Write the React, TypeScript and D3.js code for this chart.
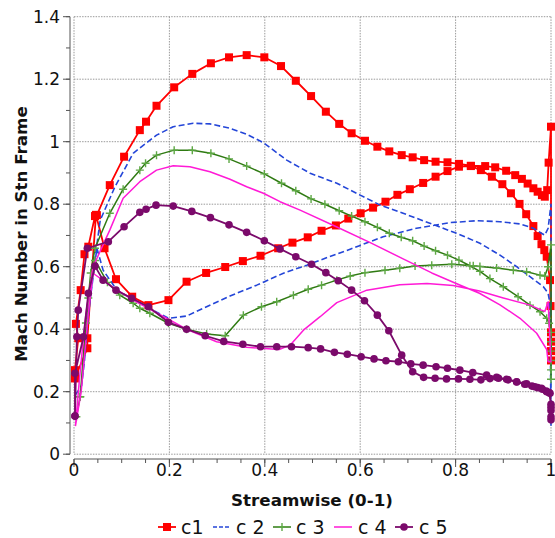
import React from "react";
import * as d3 from "d3";

type P = [number, number];

const X_TICKS = [0, 0.2, 0.4, 0.6, 0.8, 1];
const X_TICK_LABELS = ["0", "0.2", "0.4", "0.6", "0.8", "1"];
const Y_TICKS = [0, 0.2, 0.4, 0.6, 0.8, 1, 1.2, 1.4];
const Y_TICK_LABELS = ["0", "0.2", "0.4", "0.6", "0.8", "1", "1.2", "1.4"];
const SERIES_NAMES = ["c1", "c 2", "c 3", "c 4", "c 5"];

const c1Data: P[] = [
  [0.002, 0.243], [0.002, 0.269], [0.009, 0.371], [0.004, 0.417], [0.014, 0.525], [0.022, 0.64], [0.03, 0.664],
  [0.044, 0.762], [0.048, 0.765], [0.075, 0.861], [0.105, 0.952], [0.138, 1.037], [0.151, 1.064], [0.173, 1.115],
  [0.21, 1.174], [0.248, 1.217], [0.287, 1.251], [0.325, 1.27], [0.362, 1.277], [0.399, 1.27], [0.434, 1.242],
  [0.465, 1.195], [0.497, 1.146], [0.528, 1.096], [0.556, 1.057], [0.582, 1.027], [0.61, 1.003], [0.636, 0.984],
  [0.661, 0.969], [0.687, 0.957], [0.71, 0.95], [0.734, 0.941], [0.758, 0.936], [0.783, 0.934], [0.807, 0.929],
  [0.832, 0.923], [0.862, 0.922], [0.883, 0.918], [0.906, 0.907], [0.925, 0.893], [0.939, 0.881], [0.951, 0.866],
  [0.963, 0.851], [0.972, 0.84], [0.981, 0.829], [0.987, 0.824], [0.992, 0.845], [0.995, 0.933], [1.0, 1.048],
  [1.0, 0.3], [1.0, 0.33], [1.0, 0.36], [1.0, 0.39], [0.999, 0.474], [0.998, 0.557], [0.991, 0.632], [0.986, 0.653],
  [0.98, 0.672], [0.972, 0.698], [0.963, 0.73], [0.948, 0.768], [0.934, 0.801], [0.916, 0.835], [0.898, 0.864],
  [0.876, 0.888], [0.853, 0.909], [0.832, 0.922], [0.807, 0.92], [0.783, 0.906], [0.758, 0.888], [0.732, 0.868],
  [0.704, 0.848], [0.678, 0.83], [0.653, 0.808], [0.627, 0.789], [0.601, 0.771], [0.575, 0.754], [0.549, 0.732],
  [0.519, 0.715], [0.49, 0.694], [0.458, 0.677], [0.428, 0.659], [0.391, 0.635], [0.354, 0.618], [0.317, 0.599],
  [0.277, 0.58], [0.236, 0.552], [0.198, 0.493], [0.156, 0.477], [0.122, 0.504], [0.088, 0.56], [0.064, 0.659],
  [0.046, 0.766], [0.028, 0.371], [0.028, 0.339], [0.002, 0.243],
];

const c2Data: P[] = [
  [0.003, 0.19], [0.016, 0.22], [0.022, 0.3], [0.027, 0.397], [0.04, 0.58], [0.055, 0.749], [0.086, 0.856],
  [0.124, 0.963], [0.173, 1.021], [0.208, 1.048], [0.25, 1.059], [0.285, 1.057], [0.327, 1.043], [0.362, 1.024],
  [0.397, 0.997], [0.432, 0.957], [0.446, 0.941], [0.495, 0.899], [0.551, 0.867], [0.6, 0.829], [0.642, 0.797],
  [0.69, 0.771], [0.746, 0.739], [0.802, 0.707], [0.851, 0.675], [0.893, 0.637], [0.928, 0.6], [0.956, 0.568],
  [0.984, 0.536], [0.994, 0.515], [0.998, 0.48], [1.0, 0.09], [1.0, 0.8], [0.994, 0.723], [0.987, 0.701],
  [0.98, 0.707], [0.963, 0.723], [0.935, 0.737], [0.893, 0.744], [0.844, 0.747], [0.788, 0.741], [0.718, 0.723],
  [0.648, 0.696], [0.579, 0.656], [0.516, 0.621], [0.488, 0.605], [0.439, 0.579], [0.383, 0.541], [0.327, 0.506],
  [0.278, 0.472], [0.236, 0.442], [0.198, 0.435], [0.145, 0.477], [0.09, 0.525], [0.061, 0.589], [0.048, 0.659],
  [0.03, 0.45], [0.016, 0.22],
];

const c3Data: P[] = [
  [0.005, 0.12], [0.013, 0.184], [0.025, 0.42], [0.035, 0.58], [0.044, 0.659], [0.075, 0.771], [0.103, 0.848],
  [0.138, 0.909], [0.15, 0.931], [0.173, 0.957], [0.21, 0.973], [0.248, 0.973], [0.287, 0.963], [0.325, 0.945],
  [0.362, 0.922], [0.399, 0.897], [0.435, 0.867], [0.465, 0.843], [0.497, 0.817], [0.526, 0.8], [0.556, 0.779],
  [0.582, 0.762], [0.61, 0.744], [0.636, 0.726], [0.661, 0.707], [0.686, 0.694], [0.71, 0.683], [0.734, 0.666],
  [0.758, 0.651], [0.783, 0.637], [0.807, 0.621], [0.83, 0.603], [0.851, 0.585], [0.872, 0.562], [0.9, 0.536],
  [0.931, 0.504], [0.956, 0.477], [0.977, 0.456], [0.991, 0.435], [0.996, 0.419], [1.0, 0.39], [1.0, 0.36],
  [1.0, 0.33], [1.0, 0.3], [1.0, 0.27], [1.0, 0.24], [1.0, 0.67], [0.994, 0.6], [0.987, 0.57], [0.977, 0.573],
  [0.949, 0.584], [0.921, 0.589], [0.886, 0.596], [0.851, 0.601], [0.837, 0.603], [0.792, 0.608], [0.75, 0.605],
  [0.715, 0.602], [0.683, 0.595], [0.652, 0.589], [0.61, 0.581], [0.579, 0.57], [0.551, 0.557], [0.519, 0.541],
  [0.491, 0.528], [0.46, 0.509], [0.425, 0.488], [0.393, 0.472], [0.355, 0.445], [0.317, 0.379], [0.278, 0.385],
  [0.236, 0.4], [0.198, 0.419], [0.159, 0.451], [0.138, 0.467], [0.124, 0.483], [0.096, 0.509], [0.07, 0.55],
  [0.044, 0.62], [0.03, 0.5], [0.013, 0.184],
];

const c4Data: P[] = [
  [0.003, 0.09], [0.012, 0.25], [0.025, 0.45], [0.04, 0.6], [0.075, 0.717], [0.103, 0.819], [0.138, 0.872],
  [0.173, 0.909], [0.208, 0.923], [0.243, 0.92], [0.285, 0.904], [0.327, 0.88], [0.362, 0.856], [0.397, 0.835],
  [0.432, 0.808], [0.474, 0.781], [0.55, 0.728], [0.62, 0.678], [0.69, 0.625], [0.75, 0.58], [0.8, 0.547],
  [0.85, 0.515], [0.893, 0.478], [0.935, 0.435], [0.97, 0.387], [0.991, 0.335], [0.994, 0.296], [1.0, 0.296],
  [0.994, 0.488], [0.987, 0.457], [0.98, 0.461], [0.956, 0.477], [0.9, 0.5], [0.85, 0.522], [0.795, 0.54],
  [0.74, 0.546], [0.683, 0.542], [0.614, 0.525], [0.551, 0.485], [0.516, 0.44], [0.481, 0.397], [0.453, 0.349],
  [0.43, 0.335], [0.362, 0.342], [0.299, 0.36], [0.236, 0.4], [0.194, 0.435], [0.124, 0.493], [0.075, 0.541],
  [0.04, 0.579], [0.03, 0.45], [0.015, 0.2], [0.003, 0.09],
];

const c5Data: P[] = [
  [0.002, 0.122], [0.006, 0.376], [0.009, 0.461], [0.028, 0.659], [0.072, 0.68], [0.105, 0.728], [0.138, 0.774],
  [0.151, 0.784], [0.172, 0.797], [0.208, 0.794], [0.247, 0.777], [0.286, 0.757], [0.325, 0.734], [0.362, 0.71],
  [0.399, 0.683], [0.432, 0.657], [0.465, 0.632], [0.498, 0.608], [0.528, 0.581], [0.554, 0.555], [0.582, 0.525],
  [0.609, 0.491], [0.636, 0.445], [0.66, 0.395], [0.687, 0.317], [0.71, 0.264], [0.733, 0.246], [0.757, 0.243],
  [0.781, 0.241], [0.806, 0.241], [0.83, 0.24], [0.853, 0.238], [0.872, 0.242], [0.89, 0.243], [0.91, 0.238],
  [0.928, 0.231], [0.945, 0.224], [0.96, 0.218], [0.972, 0.213], [0.982, 0.208], [0.99, 0.202], [0.996, 0.197],
  [1.0, 0.16], [1.0, 0.14], [1.0, 0.12], [1.0, 0.11], [1.0, 0.15], [0.998, 0.195], [0.991, 0.2], [0.98, 0.211],
  [0.966, 0.216], [0.949, 0.225], [0.928, 0.232], [0.907, 0.24], [0.886, 0.246], [0.865, 0.253], [0.836, 0.261],
  [0.809, 0.269], [0.783, 0.275], [0.759, 0.28], [0.732, 0.285], [0.706, 0.289], [0.68, 0.296], [0.654, 0.299],
  [0.629, 0.305], [0.602, 0.312], [0.573, 0.32], [0.546, 0.326], [0.517, 0.337], [0.491, 0.341], [0.456, 0.344],
  [0.425, 0.344], [0.391, 0.344], [0.354, 0.352], [0.314, 0.361], [0.275, 0.379], [0.236, 0.4], [0.198, 0.422],
  [0.156, 0.472], [0.121, 0.499], [0.088, 0.525], [0.061, 0.557], [0.044, 0.602], [0.03, 0.515], [0.02, 0.376],
  [0.002, 0.259], [0.002, 0.122],
];

const W = 555;
const H = 538;
const FONT = "'DejaVu Sans', Verdana, sans-serif";

type Marker = "square" | "plus" | "circle" | "none";
interface SeriesDef {
  name: string;
  data: P[];
  color: string;
  markerColor: string;
  width: number;
  dash?: string;
  marker: Marker;
}

const SERIES: SeriesDef[] = [
  { name: SERIES_NAMES[0], data: c1Data, color: "#ff0000", markerColor: "#ff0000", width: 1.8, marker: "square" },
  { name: SERIES_NAMES[1], data: c2Data, color: "#2446d8", markerColor: "#2446d8", width: 1.6, dash: "6,3", marker: "none" },
  { name: SERIES_NAMES[2], data: c3Data, color: "#2f7a12", markerColor: "#5ea845", width: 1.5, marker: "plus" },
  { name: SERIES_NAMES[3], data: c4Data, color: "#ff1ad6", markerColor: "#ff1ad6", width: 1.5, marker: "none" },
  { name: SERIES_NAMES[4], data: c5Data, color: "#7b0a6b", markerColor: "#7b0a6b", width: 1.8, marker: "circle" },
];

function MarkerShape({ kind, cx, cy, color }: { kind: Marker; cx: number; cy: number; color: string }) {
  if (kind === "square") return <rect x={cx - 4} y={cy - 4} width={8} height={8} fill={color} />;
  if (kind === "circle") return <circle cx={cx} cy={cy} r={3.8} fill={color} />;
  if (kind === "plus")
    return (
      <path d={`M${cx - 4},${cy}H${cx + 4}M${cx},${cy - 4}V${cy + 4}`} stroke={color} strokeWidth={1.4} fill="none" />
    );
  return null;
}

export default function App() {
  const x = d3.scaleLinear().domain([0, 1]).range([74, 551]);
  const y = d3.scaleLinear().domain([0, 1.4]).range([454.2, 16.7]);
  const line = d3
    .line<P>()
    .x((d) => x(d[0]))
    .y((d) => y(d[1]));

  const axisX = 70;
  const axisY = 459;
  const yMinor = d3.range(0, 1.41, 0.1);
  const xMinor = d3.range(0, 1.001, 0.05);

  const legendItems = [
    { lx: 158, tx: 181 },
    { lx: 213, tx: 236 },
    { lx: 273, tx: 296 },
    { lx: 334, tx: 358 },
    { lx: 395, tx: 419 },
  ];
  const legendY = 527;

  return (
    <svg width={W} height={H} style={{ position: "absolute", left: 0, top: 0, background: "#fff" }} fontFamily={FONT}>
      {/* grid */}
      <g stroke="#9a9a9a" strokeWidth={1} strokeDasharray="1.5,1.2" fill="none">
        {Y_TICKS.map((t) => (
          <line key={"gy" + t} x1={x(0)} x2={x(1)} y1={y(t)} y2={y(t)} />
        ))}
        {X_TICKS.map((t) => (
          <line key={"gx" + t} x1={x(t)} x2={x(t)} y1={y(1.4)} y2={y(0)} />
        ))}
      </g>
      {/* axes */}
      <g stroke="#555" strokeWidth={1} fill="none">
        <line x1={axisX} x2={axisX} y1={y(1.4)} y2={y(0)} />
        {yMinor.map((t) => (
          <line key={"ymt" + t} x1={axisX - 4} x2={axisX} y1={y(t)} y2={y(t)} />
        ))}
        {Y_TICKS.map((t) => (
          <line key={"yt" + t} x1={axisX - 7} x2={axisX} y1={y(t)} y2={y(t)} />
        ))}
        <line x1={x(0)} x2={x(1)} y1={axisY} y2={axisY} />
        {xMinor.map((t) => (
          <line key={"xmt" + t} x1={x(t)} x2={x(t)} y1={axisY} y2={axisY + 4} />
        ))}
        {X_TICKS.map((t) => (
          <line key={"xt" + t} x1={x(t)} x2={x(t)} y1={axisY} y2={axisY + 8} />
        ))}
      </g>
      {/* tick labels */}
      <g fontSize={17} fill="#111">
        {Y_TICKS.map((t, i) => (
          <text key={"yl" + t} x={60} y={y(t) + 6} textAnchor="end">
            {Y_TICK_LABELS[i]}
          </text>
        ))}
        {X_TICKS.map((t, i) => (
          <text key={"xl" + t} x={x(t)} y={476} textAnchor="middle">
            {X_TICK_LABELS[i]}
          </text>
        ))}
      </g>
      {/* axis titles */}
      <text x={312} y={506} textAnchor="middle" fontWeight="bold" fontSize={16.7} fill="#111">
        Streamwise (0-1)
      </text>
      <text
        transform={`translate(27,${234}) rotate(-90)`}
        textAnchor="middle"
        fontWeight="bold"
        fontSize={16.7}
        fill="#111"
      >
        Mach Number in Stn Frame
      </text>
      {/* series */}
      {SERIES.map((s) => (
        <g key={s.name}>
          <path
            d={line(s.data) || ""}
            fill="none"
            stroke={s.color}
            strokeWidth={s.width}
            strokeDasharray={s.dash}
            strokeLinejoin="round"
          />
          {s.marker !== "none" &&
            s.data.map((d, i) => (
              <MarkerShape key={i} kind={s.marker} cx={x(d[0])} cy={y(d[1])} color={s.markerColor} />
            ))}
        </g>
      ))}
      {/* legend */}
      {SERIES.map((s, i) => {
        const it = legendItems[i];
        return (
          <g key={"lg" + s.name}>
            <line
              x1={it.lx}
              x2={it.lx + 18}
              y1={legendY}
              y2={legendY}
              stroke={s.color}
              strokeWidth={s.width}
              strokeDasharray={s.dash ? "4,2" : undefined}
            />
            {s.marker !== "none" && <MarkerShape kind={s.marker} cx={it.lx + 9} cy={legendY} color={s.markerColor} />}
            <text x={it.tx} y={legendY + 7} fontSize={19} fill="#111">
              {s.name}
            </text>
          </g>
        );
      })}
    </svg>
  );
}
